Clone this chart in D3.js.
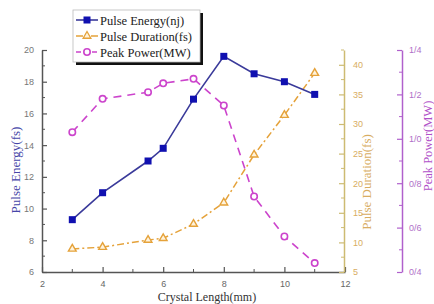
<!DOCTYPE html>
<html>
<head>
<meta charset="utf-8">
<script src="https://cdn.jsdelivr.net/npm/d3@7"></script>
<style>
  body { margin: 0; background: #fff; }
  svg { display: block; }
  .tick text { font-family: "Liberation Sans", Arial, sans-serif; font-size: 9px; }
</style>
</head>
<body>
<svg id="chart" width="434" height="304"></svg>
<script>
// Crystal length (mm) for each measurement
const lengths = [3, 4, 5.5, 6, 7, 8, 9, 10, 11];
// Series
const pulseEnergy = [9.3, 11.0, 13.0, 13.8, 16.9, 19.6, 18.5, 18.0, 17.2];
const pulseDuration = [8.9, 9.2, 10.4, 10.7, 13.1, 16.7, 24.8, 31.5, 38.6];
const peakPower = [1.03, 1.18, 1.21, 1.25, 1.27, 1.15, 0.74, 0.56, 0.44];

const xTicks = [2, 4, 6, 8, 10, 12];
const energyTicks = [6, 8, 10, 12, 14, 16, 18, 20];
const durationTicks = [5, 10, 15, 20, 25, 30, 35, 40];
const powerTicks = [0.4, 0.6, 0.8, 1.0, 1.2, 1.4];
const powerTickLabels = ["0/4", "0/6", "0/8", "1/0", "1/2", "1/4"];

const legendItems = ["Pulse Energy(nj)", "Pulse Duration(fs)", "Peak Power(MW)"];

const SERIF = '"Liberation Serif", "Times New Roman", "DejaVu Serif", serif';

const svg = d3.select("#chart");
const plot = { left: 42, right: 345, top: 50, bottom: 272 };

const x = d3.scaleLinear().domain([2, 12]).range([plot.left, plot.right]);
const yE = d3.scaleLinear().domain([6, 20]).range([plot.bottom, plot.top]);
const yD = d3.scaleLinear().domain([5, 42.5]).range([plot.bottom, plot.top]);
const yP = d3.scaleLinear().domain([0.4, 1.4]).range([plot.bottom, plot.top]);

const colors = {
  axis: "#555",
  energy: "#1010b0",
  energyLine: "#3a3a9a",
  duration: "#e5a23a",
  durAxis: "#cdbb72",
  durText: "#d8ad62",
  power: "#cc44cc",
  powAxis: "#b060cc"
};

// helper to style an axis group
function styleAxis(g, col, textCol) {
  g.select(".domain").attr("stroke", col).attr("stroke-width", 1.5);
  g.selectAll(".tick line").attr("stroke", col).attr("stroke-width", 1.2);
  g.selectAll(".tick text").attr("fill", textCol);
}

// minor ticks
function minor(g, scale, values, orient, len, col) {
  values.forEach(v => {
    const p = scale(v);
    const l = g.append("line").attr("stroke", col).attr("stroke-width", 1);
    if (orient === "x") l.attr("x1", p).attr("x2", p).attr("y1", 0).attr("y2", -len);
    else if (orient === "left") l.attr("y1", p).attr("y2", p).attr("x1", 0).attr("x2", len);
    else l.attr("y1", p).attr("y2", p).attr("x1", 0).attr("x2", -len);
  });
}

// bottom axis
const gx = svg.append("g").attr("transform", `translate(0,${plot.bottom})`)
  .call(d3.axisBottom(x).tickValues(xTicks).tickSizeInner(-5).tickSizeOuter(0).tickPadding(9));
styleAxis(gx, colors.axis, "#666");
minor(gx, x, [3, 5, 7, 9, 11], "x", 3, colors.axis);

// left axis
const gyE = svg.append("g").attr("transform", `translate(${plot.left},0)`)
  .call(d3.axisLeft(yE).tickValues(energyTicks).tickSizeInner(-5).tickSizeOuter(0).tickPadding(8));
styleAxis(gyE, colors.axis, "#777");
minor(gyE, yE, [7, 9, 11, 13, 15, 17, 19], "left", 3, colors.axis);

// duration axis
const gyD = svg.append("g").attr("transform", `translate(${plot.right - 1},0)`)
  .call(d3.axisRight(yD).tickValues(durationTicks).tickSizeInner(-5).tickSizeOuter(0).tickPadding(9));
styleAxis(gyD, colors.durAxis, colors.durText);
minor(gyD, yD, [7.5, 12.5, 17.5, 22.5, 27.5, 32.5, 37.5, 42.5], "right", 3, colors.durAxis);

// power axis
const gyP = svg.append("g").attr("transform", `translate(402,0)`)
  .call(d3.axisRight(yP).tickValues(powerTicks).tickFormat((d, i) => powerTickLabels[i])
    .tickSizeInner(-5).tickSizeOuter(0).tickPadding(7));
styleAxis(gyP, colors.powAxis, "#b070c8");
minor(gyP, yP, [0.5, 0.7, 0.9, 1.1, 1.3], "right", 3, colors.powAxis);

// axis titles
svg.append("text").attr("font-family", SERIF)
  .attr("transform", "translate(20,170) rotate(-90)")
  .attr("text-anchor", "middle").attr("font-size", 13).attr("fill", "#4646a8")
  .text("Pulse Energy(fs)");
svg.append("text").attr("font-family", SERIF)
  .attr("transform", "translate(371,182) rotate(-90)")
  .attr("text-anchor", "middle").attr("font-size", 13).attr("fill", colors.durText)
  .text("Pulse Duration(fs)");
svg.append("text").attr("font-family", SERIF)
  .attr("transform", "translate(432,146) rotate(-90)")
  .attr("text-anchor", "middle").attr("font-size", 12.5).attr("fill", "#b050c8")
  .text("Peak Power(MW)");
svg.append("text").attr("font-family", SERIF)
  .attr("x", 207).attr("y", 301)
  .attr("text-anchor", "middle").attr("font-size", 12).attr("fill", "#333")
  .text("Crystal Length(mm)");

// series
const pts = (ys, sc) => lengths.map((l, i) => [x(l), sc(ys[i])]);
const line = d3.line();

const pE = pts(pulseEnergy, yE);
const pD = pts(pulseDuration, yD);
const pP = pts(peakPower, yP);

svg.append("path").attr("d", line(pD)).attr("fill", "none")
  .attr("stroke", colors.duration).attr("stroke-width", 1.5).attr("stroke-dasharray", "7,3,2,3");
svg.append("path").attr("d", line(pP)).attr("fill", "none")
  .attr("stroke", colors.power).attr("stroke-width", 1.6).attr("stroke-dasharray", "8,6");
svg.append("path").attr("d", line(pE)).attr("fill", "none")
  .attr("stroke", colors.energyLine).attr("stroke-width", 1.6);

const tri = d3.symbol().type(d3.symbolTriangle).size(26);
svg.selectAll(".tri").data(pD).enter().append("path")
  .attr("transform", d => `translate(${d[0]},${d[1]})`)
  .attr("d", tri).attr("fill", "#fff3dc").attr("stroke", colors.duration).attr("stroke-width", 1.4);

svg.selectAll(".circ").data(pP).enter().append("circle")
  .attr("cx", d => d[0]).attr("cy", d => d[1]).attr("r", 3.2)
  .attr("fill", "#fff").attr("stroke", colors.power).attr("stroke-width", 1.6);

svg.selectAll(".sq").data(pE).enter().append("rect")
  .attr("x", d => d[0] - 3.5).attr("y", d => d[1] - 3.5)
  .attr("width", 7).attr("height", 7).attr("fill", colors.energy);

// legend
const lg = svg.append("g").attr("transform", "translate(73,10)");
lg.append("rect").attr("x", 3).attr("y", 3).attr("width", 127).attr("height", 52).attr("fill", "#111");
lg.append("rect").attr("x", 0).attr("y", 0).attr("width", 127).attr("height", 52)
  .attr("fill", "#fff").attr("stroke", "#bbb").attr("stroke-width", 0.8);

const legendStyles = [
  { col: colors.energyLine, dash: null },
  { col: colors.duration, dash: "7,3,2,3" },
  { col: colors.power, dash: "5,3" }
];
legendItems.forEach((t, i) => {
  const yy = 10 + i * 16;
  const st = legendStyles[i];
  lg.append("line").attr("x1", 3).attr("x2", 25).attr("y1", yy).attr("y2", yy)
    .attr("stroke", st.col).attr("stroke-width", 1.6).attr("stroke-dasharray", st.dash);
  if (i === 0) {
    lg.append("rect").attr("x", 10.5).attr("y", yy - 3.5).attr("width", 7).attr("height", 7).attr("fill", colors.energy);
  } else if (i === 1) {
    lg.append("path").attr("transform", `translate(14,${yy})`).attr("d", tri)
      .attr("fill", "#fff3dc").attr("stroke", colors.duration).attr("stroke-width", 1.3);
  } else {
    lg.append("circle").attr("cx", 14).attr("cy", yy).attr("r", 3.2)
      .attr("fill", "#fff").attr("stroke", colors.power).attr("stroke-width", 1.6);
  }
  lg.append("text").attr("font-family", SERIF).attr("x", 27).attr("y", yy + 4.5)
    .attr("font-size", 12.5).attr("fill", "#222").text(t);
});
</script>
</body>
</html>
